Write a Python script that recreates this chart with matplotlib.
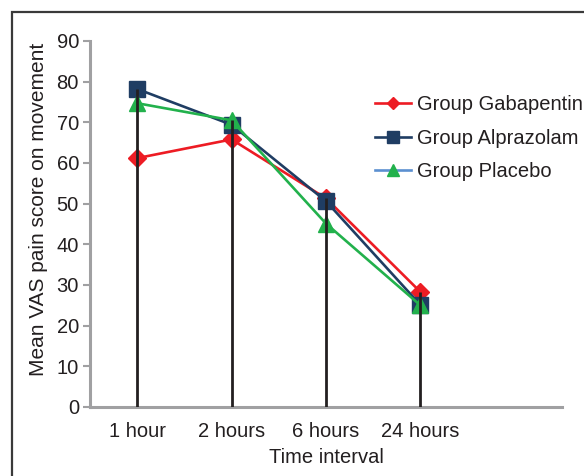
import matplotlib.pyplot as plt
import numpy as np
from matplotlib.lines import Line2D
from matplotlib.patches import Rectangle

plt.rcParams['font.family'] = ['Liberation Sans', 'DejaVu Sans']

# data
intervals = ['1 hour', '2 hours', '6 hours', '24 hours']
gabapentin = [61.2, 65.8, 51.3, 28.3]
alprazolam = [78.2, 69.4, 50.6, 25.1]
placebo = [74.7, 70.5, 45.1, 25.0]

red = '#ed1c24'
navy = '#1f3d63'
green = '#22b14c'
txt = '#231f20'

fig = plt.figure(figsize=(5.84, 4.76), dpi=100)
ax = fig.add_axes([90 / 584, 69 / 476, 472 / 584, 366 / 476])

x = np.arange(len(intervals))

# high-low drop lines
tops = np.max([gabapentin, alprazolam, placebo], axis=0)
ax.vlines(x, 0, tops, color=txt, lw=2.0, zorder=5)

ax.plot(x, gabapentin, color=red, lw=1.9, marker='D', ms=9, zorder=3)
ax.plot(x, alprazolam, color=navy, lw=1.9, marker='s', ms=12, zorder=3)
ax.plot(x, placebo, color=green, lw=1.9, marker='^', ms=11, zorder=4)

ax.set_xlim(-0.5, 4.5)
ax.set_ylim(0, 90)
ax.set_yticks(range(0, 91, 10))
ax.set_xticks(x)
ax.set_xticklabels(intervals)

for s in ['top', 'right']:
    ax.spines[s].set_visible(False)
for s in ['left', 'bottom']:
    ax.spines[s].set_color('#a0a0a2')
    ax.spines[s].set_linewidth(2.2)

fs = 14.5
ax.tick_params(axis='y', length=5, width=1.5, color='#a0a0a2', labelsize=fs, labelcolor=txt, pad=3)
ax.tick_params(axis='x', length=0, labelsize=fs, labelcolor=txt, pad=11)

ax.set_ylabel('Mean VAS pain score on movement', fontsize=15, color=txt)
ax.yaxis.set_label_coords(-0.09, 0.54)
ax.set_xlabel('Time interval', fontsize=fs, color=txt, labelpad=5)

handles = [
    Line2D([], [], color=red, lw=1.9, marker='D', ms=6),
    Line2D([], [], color=navy, lw=1.9, marker='s', ms=8),
    Line2D([], [], color='#5b8fd0', lw=1.9, marker='^', mfc=green, mec=green, ms=8),
]
labels = ['Group Gabapentin', 'Group Alprazolam', 'Group Placebo']
fig.legend(handles, labels, loc='upper left', bbox_to_anchor=(367 / 584, 1 - 87 / 476),
           frameon=False, fontsize=fs, handlelength=1.8, handletextpad=0.3,
           labelspacing=0.73, labelcolor=txt, borderaxespad=0)

# frame round the figure
fig.patches.append(Rectangle((12 / 584, -0.1), 1.2, 1.1 - 12 / 476, transform=fig.transFigure,
                             fill=False, ec='#3a3a3a', lw=1.6))

fig.savefig('out.png', dpi=100)
